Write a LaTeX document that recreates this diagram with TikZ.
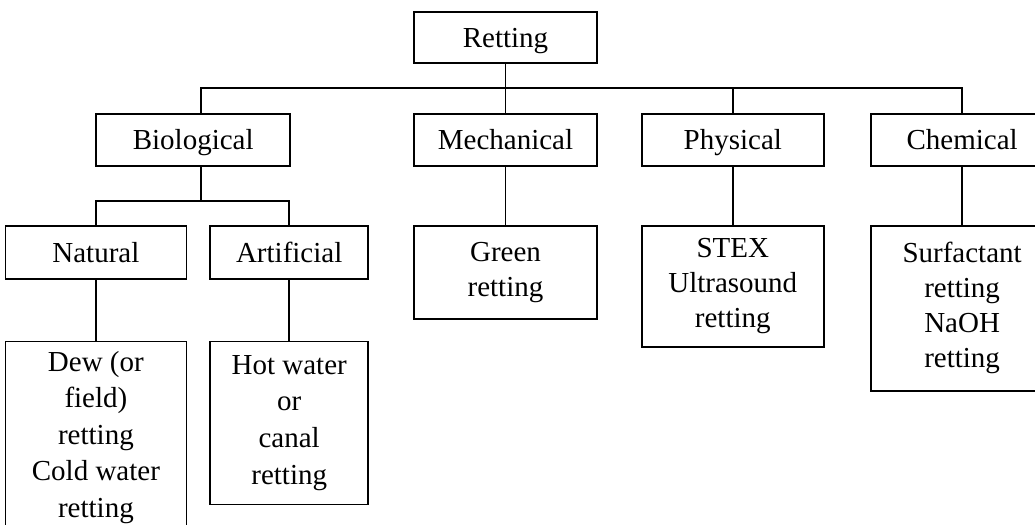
\documentclass[tikz,border=0pt]{standalone}
\usepackage{fontspec}
\setmainfont{Liberation Serif}
\usepackage{tikz}
\usetikzlibrary{positioning}

\tikzset{
	method/.style={draw, line width=0.9pt, rectangle, inner sep=0pt, align=center,
		font={\fontsize{14.5pt}{17.5pt}\selectfont}},
	oneline/.style={text height=10pt, text depth=0pt},
	loose/.style={font={\fontsize{14.5pt}{18.3pt}\selectfont}},
	link/.style={line width=0.9pt}
}

\begin{document}
\begin{tikzpicture}
	\useasboundingbox (0,0) rectangle (517.5pt,-262.5pt);
	
	% root
	\node[method, oneline, minimum width=91.5pt, minimum height=25.5pt] (R) at (252.75pt,-18.75pt) {Retting};
	
	% level 1
	\node[method, oneline, minimum width=91.5pt, minimum height=26pt, below=24.5pt of R] (M) {Mechanical};
	\node[method, oneline, minimum width=97pt, minimum height=26pt, left=61pt of M] (B) {Biological};
	\node[method, oneline, minimum width=91pt, minimum height=26pt, right=21.5pt of M] (P) {Physical};
	\node[method, oneline, minimum width=91.5pt, minimum height=26pt, right=22.5pt of P] (C) {Chemical};
	
	% level 2
	\node[method, minimum width=91.5pt, minimum height=46.5pt, below=29pt of M] (G) {Green\\retting};
	\node[method, minimum width=91pt, minimum height=60.5pt, below=29pt of P] (S) {STEX\\Ultrasound\\retting};
	\node[method, minimum width=91.5pt, minimum height=82.5pt, below=29pt of C] (CR) {Surfactant\\retting\\NaOH\\retting};
	\node[method, oneline, minimum width=79pt, minimum height=26.5pt, left=22pt of G.north west, anchor=north east] (A) {Artificial};
	\node[method, oneline, minimum width=90.5pt, minimum height=26.5pt, left=11pt of A] (N) {Natural};
	
	% level 3
	\node[method, loose, minimum width=90.5pt, minimum height=96pt, below=30.5pt of N] (D) {Dew (or\\field)\\retting\\Cold water\\retting};
	\node[method, loose, minimum width=79pt, minimum height=81.5pt, below=30.5pt of A] (H) {Hot water\\or\\canal\\retting};
	
	\draw[link] (R) -- (M);
	\draw[link] ([xshift=4pt]B.north) -- ++(0,12.5pt) -| (C.north);
	\draw[link] (P.north) -- ++(0,12.5pt);
	\draw[link] (M) -- (G);
	\draw[link] (P) -- (S);
	\draw[link] (C) -- (CR);
	\draw[link] ([xshift=4pt]B.south) -- ++(0,-17pt);
	\draw[link] (N.north) -- ++(0,12pt) -| (A.north);
	\draw[link] (N) -- (D);
	\draw[link] (A) -- (H);
	
\end{tikzpicture}
\end{document}
